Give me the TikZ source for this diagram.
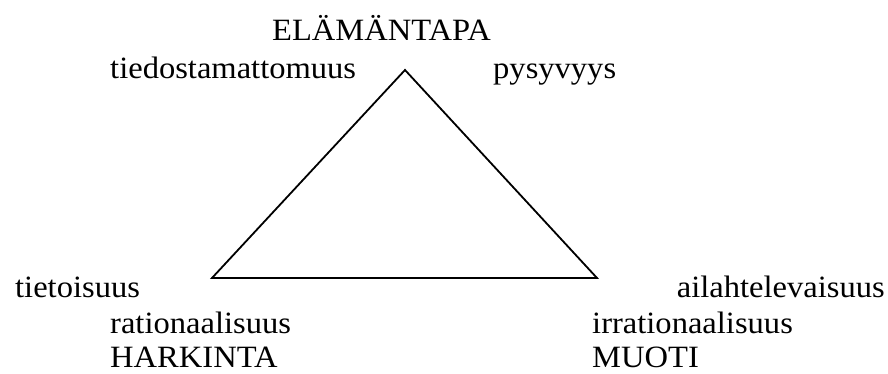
\documentclass[tikz,border=0pt]{standalone}
\usepackage{fontspec}
\setmainfont{Liberation Serif}
\newcommand{\wide}[1]{\scalebox{1.05}[1]{#1}}
\begin{document}
\begin{tikzpicture}[x=1pt,y=-1pt,
  lbl/.style={anchor=base west,inner sep=0pt,font=\fontsize{31}{34}\selectfont},
  lble/.style={lbl,anchor=base east},
  tri/.style={line width=1.8pt,line join=miter}]
\useasboundingbox (0,0) rectangle (888,374);
\coordinate (T) at (405,70);
\coordinate (L) at (212,278);
\coordinate (R) at (597,278);
\draw[tri] (T) -- (L) -- (R) -- cycle;
\node[lbl] (ela) at (272,41) {\wide{ELÄMÄNTAPA}};
\node[lbl] (tied) at (110,79) {\wide{tiedostamattomuus}};
\node[lbl] (pysy) at (493,79) {\wide{pysyvyys}};
\node[lbl] (tiet) at (15,297) {\wide{tietoisuus}};
\node[lbl] (rat) at (110,333) {\wide{rationaalisuus}};
\node[lbl] (hark) at (110,367) {\wide{HARKINTA}};
\node[lble] (ail) at (885,297) {\wide{ailahtelevaisuus}};
\node[lbl] (irr) at (592,333) {\wide{irrationaalisuus}};
\node[lbl] (muo) at (592,367) {\wide{MUOTI}};
\end{tikzpicture}
\end{document}
